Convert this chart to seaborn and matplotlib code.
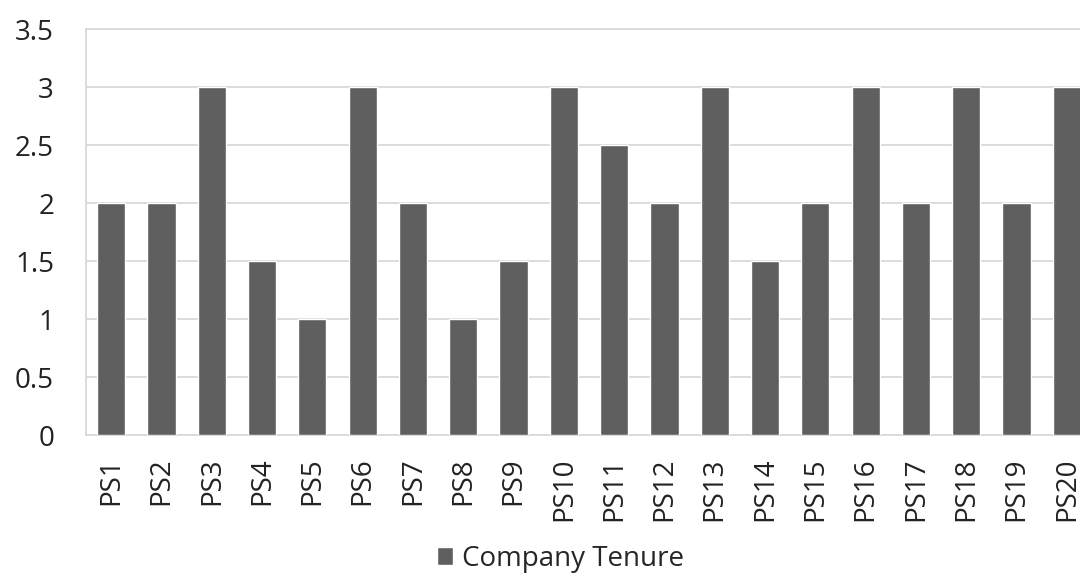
import pandas as pd
import matplotlib
matplotlib.use("Agg")
import matplotlib.pyplot as plt
import seaborn as sns

categories = [f"PS{i}" for i in range(1, 21)]
tenure = [2, 2, 3, 1.5, 1, 3, 2, 1, 1.5, 3, 2.5, 2, 3, 1.5, 2, 3, 2, 3, 2, 3]
series_name = "Company Tenure"
y_ticks = [0, 0.5, 1, 1.5, 2, 2.5, 3, 3.5]
y_tick_labels = ["0", "0.5", "1", "1.5", "2", "2.5", "3", "3.5"]

df = pd.DataFrame({"Participant": categories, "Tenure": tenure, "Series": series_name})

sns.set_style("white")
plt.rcParams["font.family"] = ["Open Sans", "DejaVu Sans"]

fig = plt.figure(figsize=(10.8, 5.75), dpi=100)
ax = fig.add_axes([86 / 1080, 1 - 435 / 575, (1092 - 86) / 1080, (435 - 29) / 575])

sns.barplot(data=df, x="Participant", y="Tenure", hue="Series",
            palette=["#5f5f5f"], width=0.56, ax=ax, zorder=3, legend=True)

ax.set_ylim(0, 3.5)
ax.set_xlim(-0.5, len(categories) - 0.5)
ax.set_yticks(y_ticks)
ax.set_yticklabels(y_tick_labels)
ax.yaxis.grid(True, color="#d9d9d9", linewidth=1.3, zorder=0)
ax.set_axisbelow(True)
ax.set_xlabel("")
ax.set_ylabel("")
ax.tick_params(axis="both", length=0, labelsize=20, colors="#222222")
ax.tick_params(axis="y", pad=23)
ax.tick_params(axis="x", rotation=90, pad=16)

for side in ["left", "bottom", "top"]:
    ax.spines[side].set_color("#d9d9d9")
    ax.spines[side].set_linewidth(1.3)
ax.spines["right"].set_visible(False)

handles, labels = ax.get_legend_handles_labels()
ax.get_legend().remove()
fig.legend(handles, labels, loc="center", bbox_to_anchor=(560 / 1080, 1 - 559 / 575),
           frameon=False, fontsize=20, handlelength=0.6, handleheight=0.6,
           handletextpad=0.3, borderpad=0, borderaxespad=0)

fig.savefig("out.png", dpi=100)
